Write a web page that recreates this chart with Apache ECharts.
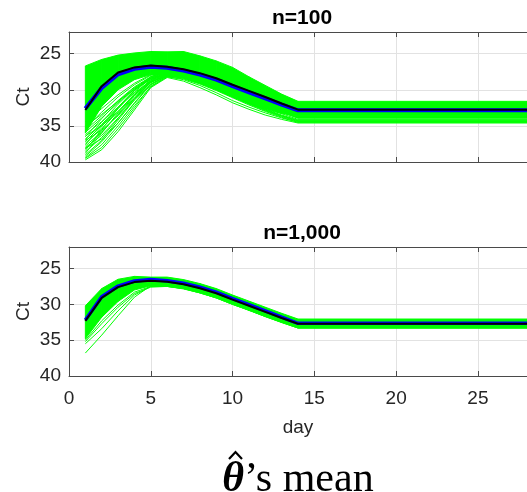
<!DOCTYPE html>
<html>
<head>
<meta charset="utf-8">
<script src="https://cdn.jsdelivr.net/npm/echarts@6/dist/echarts.min.js"></script>
<style>
html, body { margin: 0; padding: 0; background: #ffffff; }
#c { width: 527px; height: 492px; }
</style>
</head>
<body>
<div id="c"></div>
<script>
// Sampling days: daily up to day 14, then the flat tail ends at day 28
const DAYS = [1, 2, 3, 4, 5, 6, 7, 8, 9, 10, 11, 12, 13, 14, 28];

// ---- n = 100 ----
const TOP_UPPER = [26.7, 25.8, 25.2, 24.9, 24.7, 24.75, 24.7, 25.3, 26.0, 26.9, 28.2, 29.4, 30.6, 31.6, 31.6];
const TOP_LOWER = [36.0, 32.3, 30.0, 28.6, 27.9, 27.9, 28.4, 29.1, 30.0, 31.0, 31.9, 32.7, 33.3, 33.5, 33.5];
const TOP_CURVES = [
  [39.7, 38.3, 35.8, 32.8, 29.7, 28.3, 28.8, 29.7, 30.7, 31.8, 32.7, 33.5, 34.1, 34.6, 34.6],
  [39.2, 37.2, 34.6, 31.8, 29.2, 28.0, 28.3, 29.0, 29.9, 30.9, 31.9, 32.8, 33.6, 34.3, 34.3],
  [38.6, 36.6, 34.0, 31.2, 28.8, 27.6, 27.9, 28.6, 29.5, 30.4, 31.4, 32.3, 33.1, 33.8, 33.8],
  [38.0, 36.3, 33.9, 31.4, 29.3, 28.1, 28.2, 28.8, 29.6, 30.5, 31.5, 32.4, 33.3, 34.1, 34.1],
  [37.4, 35.4, 33.0, 30.6, 28.6, 27.6, 27.7, 28.3, 29.1, 30.0, 30.9, 31.8, 32.7, 33.5, 33.5],
  [36.8, 34.8, 32.4, 30.0, 28.2, 27.4, 27.6, 28.2, 29.0, 29.9, 30.8, 31.7, 32.5, 33.3, 33.3],
  [36.2, 34.4, 32.4, 30.4, 28.8, 27.9, 27.8, 28.3, 29.0, 29.8, 30.7, 31.5, 32.3, 33.0, 33.0],
  [35.6, 33.6, 31.5, 29.6, 28.2, 27.5, 27.5, 28.0, 28.7, 29.5, 30.4, 31.3, 32.1, 32.9, 32.9],
  [35.0, 33.4, 31.6, 29.9, 28.6, 27.9, 27.9, 28.3, 29.0, 29.8, 30.6, 31.5, 32.4, 33.2, 33.2],
  [34.4, 32.6, 30.7, 29.1, 27.9, 27.3, 27.4, 27.9, 28.6, 29.4, 30.3, 31.2, 32.0, 32.8, 32.8],
  [38.8, 36.0, 33.2, 30.6, 28.9, 28.1, 28.4, 29.1, 30.0, 31.0, 32.0, 32.9, 33.7, 34.4, 34.4],
  [37.8, 35.8, 33.5, 31.0, 29.0, 27.9, 28.0, 28.6, 29.4, 30.3, 31.2, 32.1, 32.9, 33.7, 33.7],
  [39.4, 37.6, 35.0, 32.2, 29.6, 28.2, 28.5, 29.2, 30.1, 31.1, 32.1, 33.0, 33.8, 34.5, 34.5],
  [36.5, 34.0, 31.6, 29.7, 28.4, 27.8, 28.0, 28.6, 29.4, 30.3, 31.2, 32.1, 33.0, 33.8, 33.8],
  [37.2, 34.9, 32.6, 30.3, 28.4, 27.5, 27.7, 28.4, 29.3, 30.3, 31.3, 32.2, 33.1, 33.9, 33.9],
  [38.4, 35.5, 32.6, 30.1, 28.4, 27.7, 27.9, 28.5, 29.3, 30.2, 31.1, 32.0, 32.8, 33.6, 33.6],
  [39.0, 37.0, 34.2, 31.4, 29.0, 27.9, 28.2, 28.9, 29.8, 30.8, 31.8, 32.7, 33.5, 34.2, 34.2],
  [38.2, 35.9, 33.4, 30.8, 28.7, 27.8, 28.0, 28.6, 29.4, 30.3, 31.3, 32.2, 33.0, 33.8, 33.8],
  [37.6, 35.1, 32.5, 30.1, 28.3, 27.6, 27.8, 28.4, 29.2, 30.1, 31.0, 31.9, 32.8, 33.6, 33.6],
  [36.9, 34.5, 32.0, 29.8, 28.2, 27.5, 27.7, 28.3, 29.1, 30.0, 30.9, 31.8, 32.6, 33.4, 33.4],
  [35.9, 33.9, 31.8, 29.9, 28.5, 27.8, 27.9, 28.4, 29.1, 29.9, 30.8, 31.6, 32.5, 33.2, 33.2],
  [35.3, 33.1, 31.0, 29.3, 28.0, 27.4, 27.5, 28.0, 28.7, 29.6, 30.5, 31.4, 32.3, 33.0, 33.0],
  [39.5, 38.0, 35.4, 32.5, 29.5, 28.2, 28.6, 29.4, 30.4, 31.5, 32.4, 33.2, 33.9, 34.5, 34.5],
  [38.1, 36.8, 34.6, 31.9, 29.3, 28.1, 28.3, 29.0, 29.9, 30.9, 31.9, 32.8, 33.6, 34.3, 34.3],
  [36.4, 35.0, 33.0, 30.8, 28.9, 28.0, 28.1, 28.7, 29.5, 30.4, 31.4, 32.3, 33.1, 33.9, 33.9],
  [37.0, 35.6, 33.6, 31.2, 29.0, 27.9, 28.0, 28.6, 29.4, 30.3, 31.3, 32.2, 33.1, 33.9, 33.9]
];
const TOP_BLUE = [32.6, 29.75, 27.85, 27.1, 26.8, 26.95, 27.35, 27.9, 28.6, 29.5, 30.35, 31.2, 32.05, 32.85, 32.85];
const TOP_MEAN = [32.8, 29.5, 27.6, 26.9, 26.65, 26.8, 27.15, 27.7, 28.4, 29.3, 30.15, 31.0, 31.9, 32.75, 32.75];

// ---- n = 1,000 ----
const BOT_UPPER = [30.2, 27.8, 26.5, 26.1, 26.2, 26.2, 26.55, 27.1, 27.8, 28.7, 29.55, 30.4, 31.25, 32.05, 32.05];
const BOT_LOWER = [34.8, 31.8, 29.6, 28.0, 27.4, 27.5, 27.85, 28.4, 29.1, 30.0, 30.85, 31.7, 32.55, 33.3, 33.3];
const BOT_CURVES = [
  [36.8, 34.3, 31.6, 29.0, 27.4, 27.3, 27.6, 28.2, 28.9, 29.8, 30.7, 31.5, 32.4, 33.2, 33.2],
  [35.5, 33.4, 30.9, 28.7, 27.5, 27.4, 27.7, 28.3, 29.0, 29.9, 30.7, 31.6, 32.4, 33.2, 33.2],
  [35.2, 32.7, 30.4, 28.5, 27.6, 27.5, 27.8, 28.4, 29.1, 30.0, 30.8, 31.7, 32.5, 33.3, 33.3],
  [35.0, 32.3, 30.1, 28.3, 27.5, 27.5, 27.8, 28.4, 29.1, 30.0, 30.8, 31.7, 32.5, 33.3, 33.3]
];
const BOT_BLUE = [32.2, 28.95, 27.45, 26.75, 26.55, 26.7, 27.05, 27.6, 28.3, 29.2, 30.05, 30.9, 31.8, 32.65, 32.65];
const BOT_MEAN = [32.3, 29.1, 27.6, 26.9, 26.7, 26.85, 27.2, 27.75, 28.45, 29.35, 30.2, 31.05, 31.9, 32.7, 32.7];

const X_MIN = 0, X_MAX = 28, X_STEP = 5;
const Y_MIN = 22, Y_MAX = 40, Y_STEP = 5;

const SANS = '"Liberation Sans", Arial, Helvetica, sans-serif';
const SERIF = '"Liberation Serif", "Times New Roman", serif';
const GREEN = '#00ff00';
const AXIS_COLOR = '#4a4a4a';
const TEXT_COLOR = '#262626';
const GRID_COLOR = '#e2e2e2';

const pairs = (vals) => DAYS.map((d, i) => [d, vals[i]]);

function bottomAxis(gi, withLabels) {
  return {
    type: 'value', gridIndex: gi, position: 'bottom',
    min: X_MIN, max: X_MAX, interval: X_STEP,
    axisLine: { show: true, onZero: false, lineStyle: { color: AXIS_COLOR, width: 1 } },
    axisTick: { show: true, inside: true, length: 5, lineStyle: { color: AXIS_COLOR } },
    axisLabel: { show: withLabels, showMaxLabel: false, color: TEXT_COLOR, fontFamily: SANS, fontSize: 19, margin: 13 },
    splitLine: { show: true, lineStyle: { color: GRID_COLOR, width: 1 } },
    name: withLabels ? 'day' : '',
    nameLocation: 'middle', nameGap: 42, nameMoveOverlap: false,
    nameTextStyle: { color: TEXT_COLOR, fontFamily: SANS, fontSize: 19 }
  };
}
function topAxis(gi) {
  return {
    type: 'value', gridIndex: gi, position: 'top',
    min: X_MIN, max: X_MAX, interval: X_STEP,
    axisLine: { show: true, onZero: false, lineStyle: { color: AXIS_COLOR, width: 1 } },
    axisTick: { show: true, inside: true, length: 5, lineStyle: { color: AXIS_COLOR } },
    axisLabel: { show: false },
    splitLine: { show: false }
  };
}
function leftAxis(gi) {
  return {
    type: 'value', gridIndex: gi, inverse: true,
    min: Y_MIN, max: Y_MAX, minInterval: Y_STEP, maxInterval: Y_STEP, splitNumber: 4,
    axisLine: { show: true, onZero: false, lineStyle: { color: AXIS_COLOR, width: 1 } },
    axisTick: { show: true, inside: true, length: 5, lineStyle: { color: AXIS_COLOR } },
    axisLabel: { showMinLabel: false, color: TEXT_COLOR, fontFamily: SANS, fontSize: 19, margin: 8 },
    splitLine: { show: true, lineStyle: { color: GRID_COLOR, width: 1 } },
    name: 'Ct', nameLocation: 'middle', nameGap: 36, nameRotate: 90, nameMoveOverlap: false,
    nameTextStyle: { color: TEXT_COLOR, fontFamily: SANS, fontSize: 19 }
  };
}

function line(gi, vals, color, width) {
  return {
    type: 'line', xAxisIndex: gi * 2, yAxisIndex: gi,
    data: pairs(vals), symbol: 'none', silent: true, animation: false,
    lineStyle: { color: color, width: width }, itemStyle: { color: color }
  };
}

// Dense core of the bundle: one filled quadrilateral per day-to-day segment,
// bounded by the upper and lower edge of the bundle.
function coreBand(gi, upper, lower) {
  const segs = [];
  for (let i = 0; i < DAYS.length - 1; i++) {
    segs.push([DAYS[i], upper[i], lower[i], DAYS[i + 1], upper[i + 1], lower[i + 1]]);
  }
  return {
    type: 'custom', xAxisIndex: gi * 2, yAxisIndex: gi, silent: true, animation: false,
    data: segs,
    encode: { x: [0, 3], y: [1, 2, 4, 5] },
    renderItem: function (params, api) {
      const a = api.coord([api.value(0), api.value(1)]);
      const b = api.coord([api.value(3), api.value(4)]);
      const c = api.coord([api.value(3), api.value(5)]);
      const d = api.coord([api.value(0), api.value(2)]);
      return {
        type: 'polygon',
        shape: { points: [a, b, c, d] },
        style: { fill: GREEN, stroke: GREEN, lineWidth: 1 }
      };
    },
    clip: true
  };
}

function panelSeries(gi, upper, lower, curves, blue, mean, blueWidth) {
  const out = [coreBand(gi, upper, lower)];
  curves.forEach(c => out.push(line(gi, c, GREEN, 1)));
  out.push(line(gi, blue, '#0000ff', blueWidth));
  out.push(line(gi, mean, '#000000', 2));
  return out;
}

const chart = echarts.init(document.getElementById('c'), null, { renderer: 'canvas' });
chart.setOption({
  animation: false,
  backgroundColor: '#ffffff',
  grid: [
    { left: 69, right: -9, top: 32, height: 130, containLabel: false },
    { left: 69, right: -9, top: 247, height: 129, containLabel: false }
  ],
  xAxis: [bottomAxis(0, false), topAxis(0), bottomAxis(1, true), topAxis(1)],
  yAxis: [leftAxis(0), leftAxis(1)],
  series: [].concat(
    panelSeries(0, TOP_UPPER, TOP_LOWER, TOP_CURVES, TOP_BLUE, TOP_MEAN, 4),
    panelSeries(1, BOT_UPPER, BOT_LOWER, BOT_CURVES, BOT_BLUE, BOT_MEAN, 3.5)
  ),
  graphic: [
    { type: 'text', x: 302, y: 18, style: { text: 'n=100', fill: '#000', font: 'bold 21px ' + SANS, textAlign: 'center', textVerticalAlign: 'middle' } },
    { type: 'text', x: 302, y: 233, style: { text: 'n=1,000', fill: '#000', font: 'bold 21px ' + SANS, textAlign: 'center', textVerticalAlign: 'middle' } },
    { type: 'text', x: 298, y: 501, style: {
        text: '{t|\u03B8}{r|\u2019s mean}', textAlign: 'center', textVerticalAlign: 'bottom',
        rich: {
          t: { fontFamily: SERIF, fontSize: 42, fontWeight: 'bold', fontStyle: 'italic', fill: '#000' },
          r: { fontFamily: SERIF, fontSize: 42, fill: '#000' }
        }
    } },
    // circumflex accent over the theta
    { type: 'polyline', shape: { points: [[229, 459], [235.5, 452], [242, 459]] },
      style: { stroke: '#000', lineWidth: 2.2, fill: null } }
  ]
});
</script>
</body>
</html>
